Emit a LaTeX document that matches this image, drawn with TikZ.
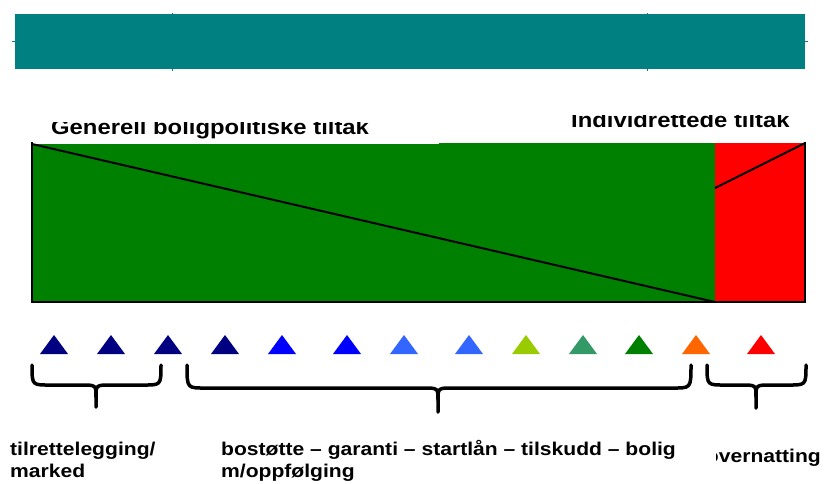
\documentclass[tikz,border=0pt]{standalone}
\usepackage{fontspec}
\newfontfamily\labfont{Liberation Sans}[FakeStretch=1.14]
\definecolor{tealc}{HTML}{008080}
\definecolor{greenc}{HTML}{008000}
\definecolor{redc}{HTML}{FF0000}
\definecolor{navyc}{HTML}{000080}
\definecolor{bluec}{HTML}{0000FF}
\definecolor{lbluec}{HTML}{3366FF}
\definecolor{limec}{HTML}{99CC00}
\definecolor{seac}{HTML}{339966}
\definecolor{orangec}{HTML}{FF6600}
\newcommand{\cbrace}[6]{% x1, x2, tip, ytop, ybar, ytip
  \draw[bracestyle] (#1,#4) .. controls (#1,{#5+1}) and (#1,#5) .. ({#1+20},#5) -- ({#3-15},#5)
     .. controls (#3,#5) .. (#3,{#5+12}) -- (#3,#6);
  \draw[bracestyle] (#2,#4) .. controls (#2,{#5+1}) and (#2,#5) .. ({#2-20},#5) -- ({#3+15},#5)
     .. controls (#3,#5) .. (#3,{#5+12});
}
\begin{document}
\begin{tikzpicture}[x=1pt,y=-1pt,
  toplab/.style={font=\labfont\bfseries\fontsize{20.9}{24}\selectfont, inner sep=0pt, anchor=base west},
  botlab/.style={font=\labfont\bfseries\fontsize{18.5}{22}\selectfont, inner sep=0pt, anchor=base west},
  bracestyle/.style={line width=3.5pt, line cap=round, line join=round},
  edge/.style={line width=2pt}]
\useasboundingbox (0,0) rectangle (825,483);
% title bar
\draw[tealc, line width=0.8pt] (11.5,41.7) -- (808,41.7);
\draw[tealc, line width=0.8pt] (172,13) -- (172,71);
\draw[tealc, line width=0.8pt] (647,13) -- (647,71);
\fill[tealc] (15,14) rectangle (805,69);
% headings (clipped at top)
\begin{scope}
  \clip (0,122) rectangle (450,145);
  \node[toplab] (gen) at (51,134) {Generell boligpolitiske tiltak};
\end{scope}
\begin{scope}
  \clip (450,115) rectangle (825,140);
  \node[toplab] (ind) at (571,127) {Individrettede tiltak};
\end{scope}
% main bar
\fill[greenc] (32,144) rectangle (439,302);
\fill[greenc] (439,143) rectangle (715,302);
\fill[redc] (715,143) rectangle (805,302);
\draw[edge] (32,142) -- (32,302) -- (805,302) -- (805,142);
\draw[edge] (32,144) -- (715,302);
\draw[edge] (715,188) -- (805,143);
% triangles
\foreach \x/\c in {54/navyc,111/navyc,168/navyc,225/navyc,282/bluec,347/bluec,404/lbluec,469/lbluec,526/limec,583/seac,639/greenc,696/orangec,761/redc}{
  \fill[\c] ({\x-14},354) -- (\x,335) -- ({\x+14},354) -- cycle;
}
% braces
\cbrace{32}{161}{96}{365}{385}{407}
\cbrace{187}{691}{438}{365}{388}{412}
\cbrace{707}{806}{756}{365}{385}{408}
% bottom labels
\node[botlab] (l1a) at (10,455) {tilrettelegging/};
\node[botlab] (l1b) at (10,477) {marked};
\node[botlab] (l2a) at (221,455) {bostøtte – garanti – startlån – tilskudd – bolig};
\node[botlab] (l2b) at (221,477) {m/oppfølging};
\begin{scope}
  \clip (716,430) rectangle (825,483);
  \node[botlab, anchor=base east] (l3) at (821,462) {overnatting};
\end{scope}
\end{tikzpicture}
\end{document}
